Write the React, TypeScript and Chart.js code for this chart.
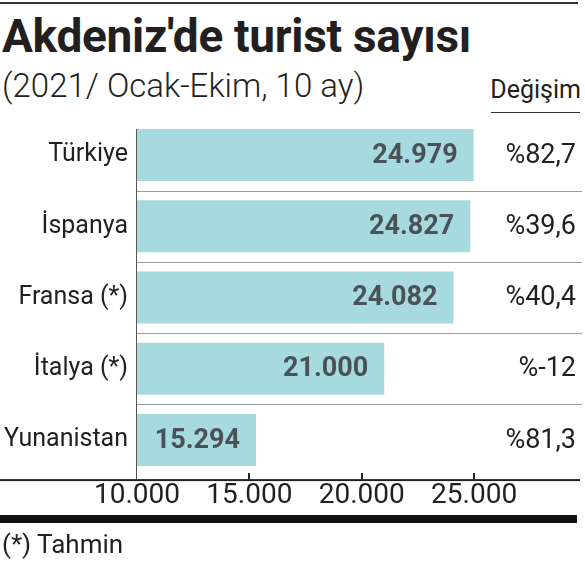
import React, { useEffect, useRef } from "react";
import { Chart, registerables } from "chart.js";

Chart.register(...registerables);

const categories = ["Türkiye", "İspanya", "Fransa (*)", "İtalya (*)", "Yunanistan"];
const values = [24979, 24827, 24082, 21000, 15294];
const changes = ["%82,7", "%39,6", "%40,4", "%-12", "%81,3"];
const xTickValues = [10000, 15000, 20000, 25000];
const xTickLabels = ["10.000", "15.000", "20.000", "25.000"];
const xMin = 10000;
const xMax = 29800;

const BAR_COLOR = "#a6dadf";
const TEXT = "#231f20";
const VALUE_TEXT = "#4a5157";
const FONT = "Roboto, 'Noto Sans', sans-serif";

const fmt = (v: number) => String(v).replace(/\B(?=(\d{3})+(?!\d))/g, ".");

const decorPlugin = {
  id: "decor",
  afterDatasetsDraw(chart: any) {
    const { ctx, chartArea, scales } = chart;
    const x = scales.x;
    const y = scales.y;
    const meta = chart.getDatasetMeta(0);
    const axisY = chartArea.bottom + 4;
    ctx.save();
    // separators
    ctx.strokeStyle = "#9c9c9c";
    ctx.lineWidth = 1;
    for (let i = 0; i < categories.length - 1; i++) {
      const yy = Math.round((y.getPixelForValue(i) + y.getPixelForValue(i + 1)) / 2) + 0.5;
      ctx.beginPath();
      ctx.moveTo(chartArea.left, yy);
      ctx.lineTo(chartArea.right, yy);
      ctx.stroke();
    }
    // y axis line
    const first = meta.data[0];
    const top = first.y - first.height / 2;
    ctx.strokeStyle = "#555";
    ctx.beginPath();
    ctx.moveTo(chartArea.left - 0.5, top);
    ctx.lineTo(chartArea.left - 0.5, axisY);
    ctx.stroke();
    // x axis line
    ctx.fillStyle = "#222";
    ctx.fillRect(0, axisY - 0.5, 580, 2);
    // tick marks
    xTickValues.forEach((v) => {
      if (v === xMin) return;
      const px = Math.round(x.getPixelForValue(v));
      ctx.fillRect(px - 1, axisY - 6.5, 2, 6);
    });
    // value labels
    ctx.font = `bold 27px ${FONT}`;
    ctx.fillStyle = VALUE_TEXT;
    ctx.textAlign = "right";
    ctx.textBaseline = "middle";
    meta.data.forEach((bar: any, i: number) => {
      ctx.fillText(fmt(values[i]), bar.x - 16, bar.y + 1);
    });
    // change labels
    ctx.font = `27px ${FONT}`;
    ctx.fillStyle = TEXT;
    meta.data.forEach((bar: any, i: number) => {
      ctx.fillText(changes[i], 576, bar.y + 1);
    });
    ctx.restore();
  },
};

export default function App() {
  const canvasRef = useRef<HTMLCanvasElement | null>(null);

  useEffect(() => {
    const canvas = canvasRef.current;
    if (!canvas) return;
    const chart = new Chart(canvas, {
      type: "bar",
      data: {
        labels: categories,
        datasets: [
          {
            data: values,
            backgroundColor: BAR_COLOR,
            borderWidth: 0,
            barPercentage: 1,
            categoryPercentage: 0.73,
          },
        ],
      },
      options: {
        indexAxis: "y",
        responsive: false,
        animation: false,
        devicePixelRatio: 1,
        layout: { padding: { top: 119.4, right: 3, bottom: 49.4, left: 0 } },
        plugins: { legend: { display: false }, tooltip: { enabled: false }, title: { display: false } },
        scales: {
          x: {
            type: "linear",
            min: xMin,
            max: xMax,
            grid: { display: false, drawTicks: false },
            border: { display: false },
            afterBuildTicks: (axis: any) => {
              axis.ticks = xTickValues.map((v) => ({ value: v }));
            },
            afterFit: (axis: any) => {
              axis.height = 40;
            },
            ticks: {
              autoSkip: false,
              maxRotation: 0,
              padding: 4,
              color: TEXT,
              font: { family: FONT, size: 28 },
              callback: (v: any) => {
                const idx = xTickValues.indexOf(Number(v));
                return idx >= 0 ? xTickLabels[idx] : "";
              },
            },
          },
          y: {
            grid: { display: false, drawTicks: false },
            border: { display: false },
            afterFit: (axis: any) => {
              axis.width = 137;
            },
            ticks: {
              padding: 9,
              color: TEXT,
              font: { family: FONT, size: 25 },
            },
          },
        },
      },
      plugins: [decorPlugin],
    } as any);
    return () => chart.destroy();
  }, []);

  const abs = (s: React.CSSProperties): React.CSSProperties => ({ position: "absolute", margin: 0, whiteSpace: "nowrap", ...s });

  return (
    <div style={{ position: "absolute", left: 0, top: 0, width: 585, height: 565, background: "#fff", overflow: "hidden", fontFamily: FONT, color: TEXT }}>
      <div style={abs({ left: 0, top: 2, width: 578, height: 2, background: "#333" })} />
      <div style={abs({ left: 2, top: 13.3, fontSize: 46, lineHeight: "46px", fontWeight: 700, letterSpacing: "-0.3px" })}>
        Akdeniz'de turist sayısı
      </div>
      <div style={abs({ left: 2, top: 69, fontSize: 33, lineHeight: "33px", fontWeight: 300 })}>
        (2021/ Ocak-Ekim, 10 ay)
      </div>
      <div style={abs({ right: 4, top: 76.5, fontSize: 25, lineHeight: "25px", textAlign: "right" })}>Değişim</div>
      <div style={abs({ left: 491, top: 112, width: 89, height: 1, background: "#333" })} />
      <canvas ref={canvasRef} width={585} height={565} style={{ position: "absolute", left: 0, top: 0, width: 585, height: 565 }} />
      <div style={abs({ left: 0, top: 515, width: 577, height: 8, background: "#111" })} />
      <div style={abs({ left: 2, top: 531, fontSize: 26, lineHeight: "26px" })}>(*) Tahmin</div>
    </div>
  );
}
